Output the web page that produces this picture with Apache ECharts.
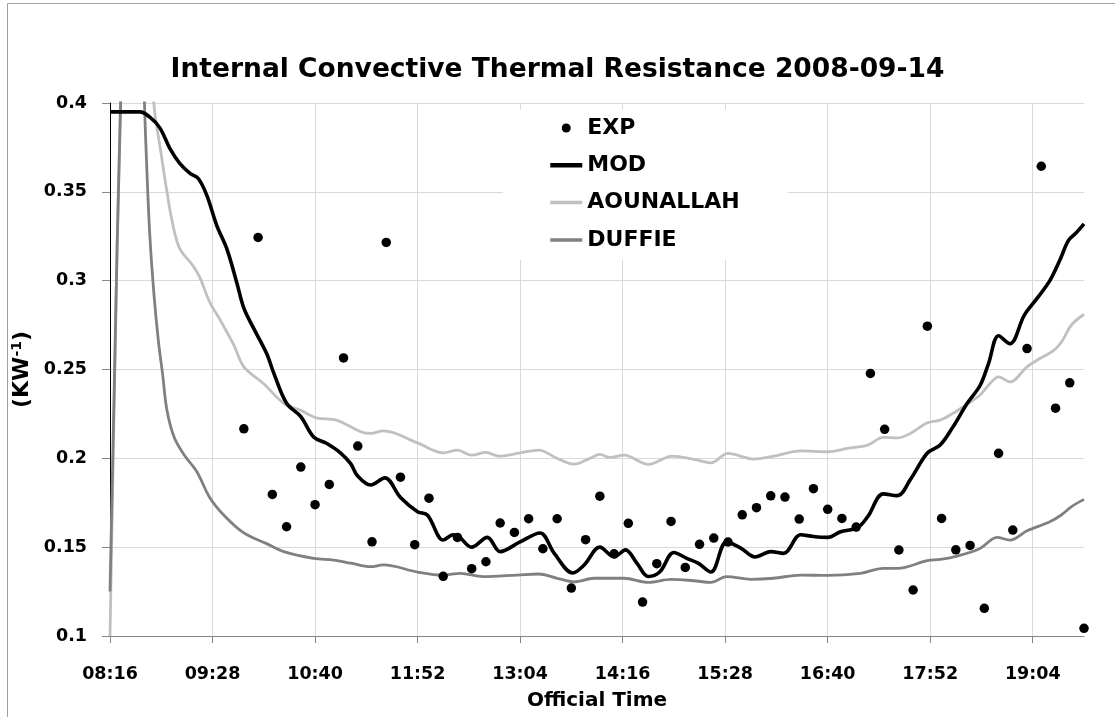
<!DOCTYPE html>
<html>
<head>
<meta charset="utf-8">
<script src="https://cdn.jsdelivr.net/npm/echarts@6/dist/echarts.min.js"></script>
<style>
html,body{margin:0;padding:0;background:#fff;}
#chart{width:1115px;height:717px;}
</style>
</head>
<body>
<div id="chart"></div>
<script>
// Time axis: minutes after 08:16
const startMinutes = 8 * 60 + 16;
const xTickInterval = 72;
const xMax = 684;

// EXP: measured points every 10 minutes (09:50 .. 19:40)
const expTimes = ["09:50","10:00","10:10","10:20","10:30","10:40","10:50","11:00","11:10","11:20",
  "11:30","11:40","11:50","12:00","12:10","12:20","12:30","12:40","12:50","13:00",
  "13:10","13:20","13:30","13:40","13:50","14:00","14:10","14:20","14:30","14:40",
  "14:50","15:00","15:10","15:20","15:30","15:40","15:50","16:00","16:10","16:20",
  "16:30","16:40","16:50","17:00","17:10","17:20","17:30","17:40","17:50","18:00",
  "18:10","18:20","18:30","18:40","18:50","19:00","19:10","19:20","19:30","19:40"];
const expValues = [0.2166,0.3243,0.1797,0.1615,0.1951,0.1739,0.1853,0.2565,0.2069,0.1530,
  0.3215,0.1894,0.1514,0.1776,0.1336,0.1555,0.1379,0.1418,0.1636,0.1583,
  0.1660,0.1491,0.1660,0.1270,0.1542,0.1787,0.1463,0.1634,0.1191,0.1407,
  0.1645,0.1386,0.1516,0.1551,0.1529,0.1682,0.1722,0.1789,0.1782,0.1658,
  0.1829,0.1713,0.1662,0.1613,0.2478,0.2163,0.1484,0.1259,0.2744,0.1662,
  0.1485,0.1510,0.1156,0.2028,0.1596,0.2618,0.3644,0.2282,0.2425,0.1043];

// MOD model (minutes after 08:16, value)
const modMinutes = [0,10,21,28,35,42,49,56,62,68,75,82,89,94,101,110,115,124,134,143,152,162,169,174,183,193,204,216,223,234,241,245,254,265,274,288,302,312,325,333,344,354,362,370,378,386,396,405,413,422,433,443,453,464,473,485,494,504,513,525,532,543,553,562,574,583,592,602,611,617,624,632,642,651,660,667,673,678,684];
const modValues = [0.395,0.395,0.395,0.392,0.386,0.3745,0.366,0.3605,0.3575,0.348,0.331,0.318,0.299,0.2845,0.273,0.259,0.248,0.231,0.2235,0.212,0.2085,0.203,0.197,0.190,0.185,0.189,0.178,0.170,0.168,0.154,0.157,0.156,0.150,0.1555,0.1475,0.153,0.158,0.1465,0.1355,0.140,0.150,0.1445,0.1485,0.141,0.1335,0.136,0.147,0.1437,0.141,0.136,0.153,0.1495,0.1445,0.1475,0.1465,0.157,0.156,0.1555,0.1587,0.161,0.167,0.180,0.179,0.188,0.203,0.2075,0.2177,0.231,0.241,0.2535,0.269,0.2645,0.2805,0.290,0.300,0.3115,0.3225,0.3265,0.332];

// AOUNALLAH model
const aouMinutes = [0,9,18,26,31,33,35,40,44,49,58,63,70,78,87,94,108,122,134,145,159,176,183,192,216,234,244,254,264,273,288,301,314,326,337,344,351,361,378,395,410,422,434,452,466,485,504,518,532,543,553,562,574,583,592,602,611,618,624,632,644,653,663,669,675,684];
const aouValues = [0.10,0.455,0.60,0.46,0.398,0.386,0.376,0.350,0.332,0.318,0.3087,0.302,0.288,0.277,0.2637,0.2515,0.242,0.231,0.227,0.2228,0.2215,0.215,0.214,0.2155,0.2087,0.2031,0.2046,0.2018,0.2033,0.2012,0.2031,0.2046,0.200,0.1967,0.200,0.2022,0.2005,0.2018,0.1966,0.2012,0.1994,0.1975,0.2028,0.1996,0.2012,0.2042,0.2037,0.2056,0.2074,0.2118,0.2115,0.214,0.220,0.2215,0.2253,0.2305,0.2356,0.2421,0.2459,0.243,0.2515,0.2562,0.2609,0.2665,0.2749,0.2811];

// DUFFIE model
const dufMinutes = [0,9,16,22,24,26,28,31,34,37,40,45,52,61,70,80,94,110,122,143,157,169,183,192,216,234,246,262,286,301,314,326,340,361,378,394,410,422,433,450,466,485,504,527,543,553,574,583,595,611,623,632,644,660,668,675,684];
const dufValues = [0.125,0.45,0.58,0.47,0.405,0.360,0.325,0.291,0.266,0.247,0.227,0.212,0.202,0.1925,0.178,0.168,0.158,0.152,0.1475,0.1437,0.1427,0.141,0.139,0.140,0.136,0.1343,0.1353,0.1334,0.1343,0.1349,0.1325,0.1305,0.1325,0.1325,0.1302,0.1319,0.1311,0.1302,0.1334,0.1319,0.1325,0.1343,0.1341,0.1353,0.1381,0.1381,0.1424,0.1431,0.145,0.1493,0.1555,0.154,0.1592,0.1643,0.1681,0.1727,0.1769];

function toOffset(hhmm) {
  const p = hhmm.split(':');
  return (+p[0]) * 60 + (+p[1]) - startMinutes;
}
function fmtTime(v) {
  const m = startMinutes + v;
  const h = Math.floor(m / 60), mm = m % 60;
  return (h < 10 ? '0' : '') + h + ':' + (mm < 10 ? '0' : '') + mm;
}
function zip(a, b) { return a.map((x, i) => [x, b[i]]); }

const FONT = 'DejaVu Sans';
const legendText = { fontFamily: FONT, fontWeight: 'bold', fontSize: 22, color: '#000', lineHeight: 24 };
const chart = echarts.init(document.getElementById('chart'));
chart.setOption({
  animation: false,
  backgroundColor: '#fff',
  graphic: [{
    type: 'rect', silent: true, z: -10,
    shape: { x: 7.5, y: 3.5, width: 1300, height: 900 },
    style: { fill: null, stroke: '#a0a0a0', lineWidth: 1 }
  }],
  title: {
    text: 'Internal Convective Thermal Resistance 2008-09-14',
    left: 'center', top: 52,
    textStyle: { fontFamily: FONT, fontWeight: 'bold', fontSize: 26.5, color: '#000' }
  },
  legend: [{
    orient: 'vertical', left: 503, top: 110,
    padding: [6, 48, 8, 45],
    backgroundColor: '#fff',
    itemWidth: 32, itemHeight: 9, itemGap: 13.3,
    textStyle: legendText,
    data: [
      { name: 'EXP' },
      { name: 'MOD', itemStyle: { opacity: 0 }, lineStyle: { width: 4.5 } },
      { name: 'AOUNALLAH', itemStyle: { opacity: 0 }, lineStyle: { width: 3.5 } },
      { name: 'DUFFIE', itemStyle: { opacity: 0 }, lineStyle: { width: 3.5 } }
    ]
  }],
  grid: { left: 110, right: 31, top: 103, bottom: 81 },
  xAxis: {
    type: 'value', min: 0, max: xMax, interval: xTickInterval,
    name: 'Official Time', nameLocation: 'middle', nameGap: 55,
    nameTextStyle: { fontFamily: FONT, fontWeight: 'bold', fontSize: 20, color: '#000' },
    axisLine: { show: true, lineStyle: { color: '#868686', width: 1 } },
    axisTick: { show: true, length: 7, lineStyle: { color: '#868686' } },
    axisLabel: {
      formatter: fmtTime, margin: 29, showMaxLabel: false,
      fontFamily: FONT, fontWeight: 'bold', fontSize: 17.5, color: '#000'
    },
    splitLine: { show: true, showMinLine: false, showMaxLine: false, lineStyle: { color: '#d9d9d9', width: 1 } }
  },
  yAxis: {
    type: 'value', min: 0.1, max: 0.4, interval: 0.05,
    name: '(KW{sup|-1})', nameLocation: 'middle', nameRotate: 90, nameGap: 68,
    nameTextStyle: {
      fontFamily: FONT, fontWeight: 'bold', fontSize: 22, color: '#000',
      rich: { sup: { fontFamily: FONT, fontWeight: 'bold', fontSize: 14, color: '#000', verticalAlign: 'top', padding: [0, 0, 10, 0] } }
    },
    axisLine: { show: true, lineStyle: { color: '#000', width: 1 } },
    axisTick: { show: true, length: 8, lineStyle: { color: '#868686' } },
    axisLabel: {
      formatter: v => String(+v.toFixed(2)), margin: 23,
      fontFamily: FONT, fontWeight: 'bold', fontSize: 17.5, color: '#000'
    },
    splitLine: { show: true, showMinLine: false, lineStyle: { color: '#d9d9d9', width: 1 } }
  },
  series: [
    {
      name: 'EXP', type: 'scatter', symbol: 'circle', symbolSize: 9.5, z: 5,
      itemStyle: { color: '#000', opacity: 1 },
      data: zip(expTimes.map(toOffset), expValues)
    },
    {
      name: 'MOD', type: 'line', smooth: 0.35, symbol: 'none', z: 4,
      lineStyle: { color: '#000', width: 3.6 }, itemStyle: { color: '#000' },
      data: zip(modMinutes, modValues)
    },
    {
      name: 'AOUNALLAH', type: 'line', smooth: 0.35, symbol: 'none', z: 2,
      lineStyle: { color: '#c0c0c0', width: 2.8 }, itemStyle: { color: '#c0c0c0' },
      data: zip(aouMinutes, aouValues)
    },
    {
      name: 'DUFFIE', type: 'line', smooth: 0.35, symbol: 'none', z: 3,
      lineStyle: { color: '#808080', width: 2.8 }, itemStyle: { color: '#808080' },
      data: zip(dufMinutes, dufValues)
    }
  ]
});
</script>
</body>
</html>
